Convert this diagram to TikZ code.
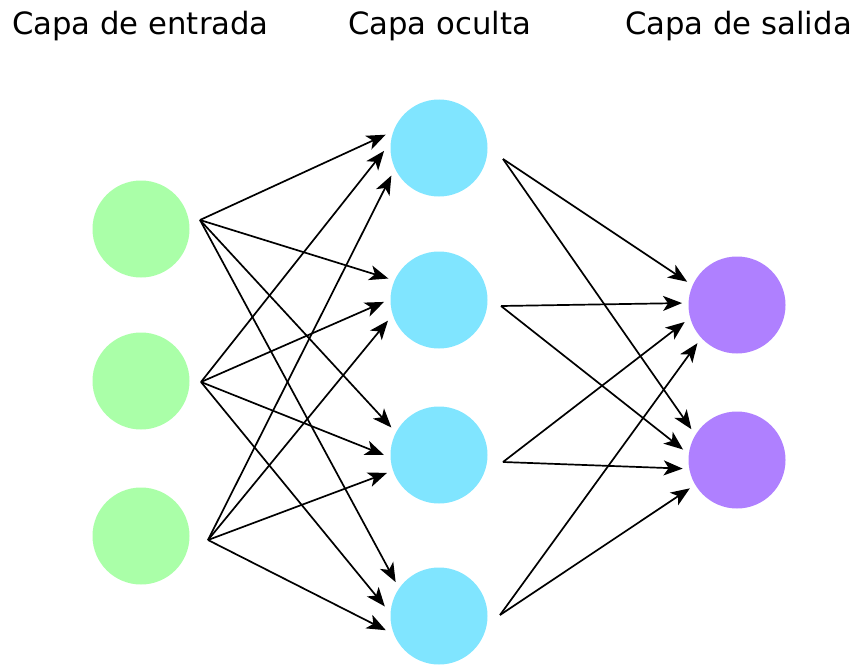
\documentclass[tikz,border=0pt]{standalone}
\usepackage{fontspec}
\setmainfont{DejaVu Sans}
\usetikzlibrary{arrows.meta}

\definecolor{inputgreen}{RGB}{170,255,168}
\definecolor{hiddencyan}{RGB}{128,229,255}
\definecolor{outputpurple}{RGB}{175,128,255}

\tikzset{
    neuron/.style={circle,minimum size=97pt,inner sep=0pt,outer sep=6.5pt},
    layerlabel/.style={anchor=base west,inner sep=0pt,font=\fontsize{30.7}{36}\selectfont},
    link/.style={line width=1.7pt,-{Stealth[length=19pt,width=15pt,inset=5pt]}}
}

\begin{document}
\begin{tikzpicture}[x=1pt,y=-1pt]
    \useasboundingbox (0,0) rectangle (853,666);

	% layer titles
	\node[layerlabel] (tin) at (12,35) {Capa de entrada};
	\node[layerlabel] (thid) at (348,35) {Capa oculta};
	\node[layerlabel] (tout) at (625,35) {Capa de salida};

	% neurons
	\node[neuron,fill=inputgreen] (i1) at (141,229) {};
	\node[neuron,fill=inputgreen] (i2) at (141,381) {};
	\node[neuron,fill=inputgreen] (i3) at (141,536) {};
	\node[neuron,fill=hiddencyan] (h1) at (439,148) {};
	\node[neuron,fill=hiddencyan] (h2) at (439,300) {};
	\node[neuron,fill=hiddencyan] (h3) at (439,455) {};
	\node[neuron,fill=hiddencyan] (h4) at (439,616) {};
	\node[neuron,fill=outputpurple] (o1) at (737,305) {};
	\node[neuron,fill=outputpurple] (o2) at (737,460) {};

	% where the connections leave
	\coordinate (i1o) at (200,220);
	\coordinate (i2o) at (201,382);
	\coordinate (i3o) at (208,540);
	\coordinate (h1o) at (503,159);
	\coordinate (h2o) at (501,306);
	\coordinate (h3o) at (503,462);
	\coordinate (h4o) at (500,615);

	% input -> hidden
	\draw[link] (i1o) -- (h1.166);
	\draw[link] (i2o) -- (h1.183);
	\draw[link] (i3o) -- (h1.210);
	\draw[link] (i1o) -- (h2.157);
	\draw[link] (i2o) -- (h2.182);
	\draw[link] (i3o) -- (h2.202);
	\draw[link] (i1o) -- (h3.150);
	\draw[link] (i2o) -- (h3.180);
	\draw[link] (i3o) -- (h3.199);
	\draw[link] (i1o) -- (h4.142);
	\draw[link] (i2o) -- (h4.170);
	\draw[link] (i3o) -- (h4.195);

	% hidden -> output
	\draw[link] (h1o) -- (o1.155);
	\draw[link] (h2o) -- (o1.178);
	\draw[link] (h3o) -- (o1.198);
	\draw[link] (h4o) -- (o1.224);
	\draw[link] (h1o) -- (o2.146);
	\draw[link] (h2o) -- (o2.169);
	\draw[link] (h3o) -- (o2.189);
	\draw[link] (h4o) -- (o2.211);

\end{tikzpicture}
\end{document}
